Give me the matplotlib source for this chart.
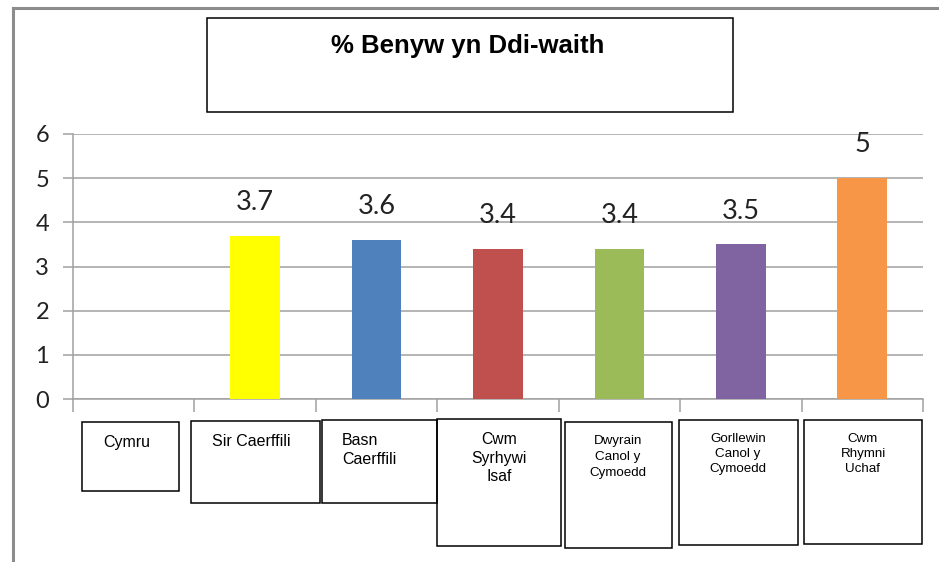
import matplotlib.pyplot as plt
import numpy as np
from matplotlib.patches import Rectangle
from matplotlib.lines import Line2D

# data
categories = ['Cymru', 'Sir Caerffili', 'Basn\nCaerffili', 'Cwm\nSyrhywi\nIsaf',
              'Dwyrain\nCanol y\nCymoedd', 'Gorllewin\nCanol y\nCymoedd', 'Cwm\nRhymni\nUchaf']
values = [np.nan, 3.7, 3.6, 3.4, 3.4, 3.5, 5]
value_labels = ['', '3.7', '3.6', '3.4', '3.4', '3.5', '5']
colors = ['#FFFFFF', '#FFFF00', '#4F81BD', '#C0504D', '#9BBB59', '#8064A2', '#F79646']
title = '% Benyw yn Ddi-waith'

# layout of the hand-drawn label boxes (pixels: left, top, right, bottom)
boxes = [(82, 422, 179, 491), (191, 421, 320, 503), (322, 420, 437, 503),
         (437, 419, 561, 546), (565, 422, 672, 548), (679, 420, 798, 545),
         (804, 420, 922, 544)]
# text anchor: (x, y, align, fontsize, linespacing)
box_text = [(103, 443, 'left', 11.5, 1.3), (212, 442, 'left', 11.5, 1.3),
            (342, 450, 'left', 11.5, 1.3), (499, 458, 'center', 11.3, 1.3),
            (618, 457, 'center', 9.6, 1.4), (738, 454, 'center', 9.6, 1.35),
            (863, 454, 'center', 9.6, 1.35)]

W, H = 939, 562
fig = plt.figure(figsize=(W / 100, H / 100), dpi=100)


def fx(px):
    return px / W


def fy(py):
    return 1 - py / H


grid_col = '#a0a0a0'

ax = fig.add_axes([fx(73), fy(399), fx(923) - fx(73), fy(134) - fy(399)])
x = np.arange(len(categories))
ax.bar(x, values, width=0.41, color=colors, zorder=3)
for xi, v, lab in zip(x, values, value_labels):
    if lab:
        ax.annotate(lab, (xi, v), xytext=(0, 24), textcoords='offset points',
                    ha='center', va='center', fontsize=19.5, family='Lato', color='#222222')

ax.set_xlim(-0.5, len(categories) - 0.5)
ax.set_ylim(0, 6)
ax.set_yticks(range(7))
ax.yaxis.grid(True, color=grid_col, lw=1.1)
ax.set_axisbelow(True)
ax.set_xticks([])
ax.set_xticks(np.arange(len(categories) + 1) - 0.5, minor=True)
ax.tick_params(axis='x', which='minor', length=9, width=1.1, color=grid_col)
ax.tick_params(axis='y', length=7.2, width=1.1, color=grid_col, labelsize=17, pad=10)
for lbl in ax.get_yticklabels():
    lbl.set_family('Lato')
    lbl.set_color('#222222')
for s in ['top', 'right']:
    ax.spines[s].set_visible(False)
for s in ['left', 'bottom']:
    ax.spines[s].set_color(grid_col)
    ax.spines[s].set_linewidth(1.1)

# outer frame (left and top edges)
fig.add_artist(Line2D([fx(13), fx(13)], [fy(8), fy(562)], color='#8c8c8c', lw=2.2))
fig.add_artist(Line2D([fx(13), fx(939)], [fy(8), fy(8)], color='#8c8c8c', lw=2.2))

# title box
fig.add_artist(Rectangle((fx(207), fy(112)), fx(733) - fx(207), fy(18) - fy(112),
                         transform=fig.transFigure, fill=False, ec='black', lw=1.1))
fig.text(fx(468), fy(46), title, ha='center', va='center', fontsize=18.5,
         fontweight='bold', family='Liberation Sans')

# category label boxes
for cat, (x0, y0, x1, y1), (tx, ty, al, fs, ls) in zip(categories, boxes, box_text):
    fig.add_artist(Rectangle((fx(x0), fy(y1)), fx(x1) - fx(x0), fy(y0) - fy(y1),
                             transform=fig.transFigure, fill=False, ec='black', lw=1.1))
    fig.text(fx(tx), fy(ty), cat, ha=al, va='center', multialignment=al,
             fontsize=fs, family='Liberation Sans', linespacing=ls)

fig.savefig('out.png', dpi=100)
